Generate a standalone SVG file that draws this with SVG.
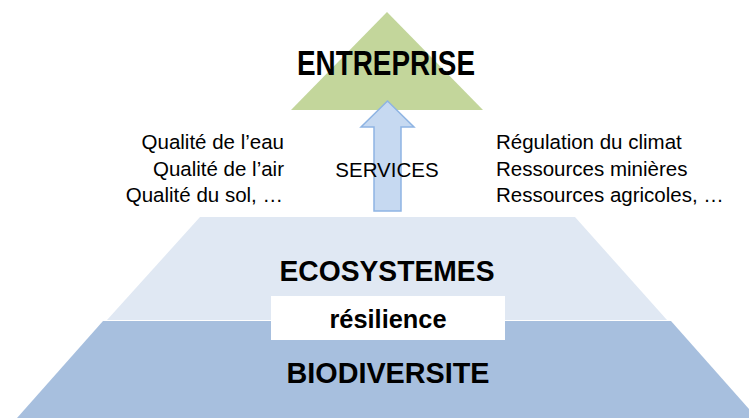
<svg xmlns="http://www.w3.org/2000/svg" width="749" height="418" viewBox="0 0 749 418">
<style>
text{font-family:"Liberation Sans",Arial,sans-serif;fill:#000}
.b{font-weight:bold}
.s{font-size:20.5px}
</style>
<rect width="749" height="418" fill="#fff"/>
<g id="biodiversite">
<polygon points="103,321 671,321 757,418 17,418" fill="#a7bfde"/>
<text class="b" x="388" y="383" font-size="29" text-anchor="middle" textLength="203" lengthAdjust="spacingAndGlyphs">BIODIVERSITE</text>
</g>
<g id="ecosystemes">
<polygon points="200,217 575,217 667,320 107,320" fill="#e0e8f3"/>
<text class="b" x="387" y="281" font-size="29" text-anchor="middle" textLength="215" lengthAdjust="spacingAndGlyphs">ECOSYSTEMES</text>
</g>
<g id="resilience">
<rect x="271" y="296" width="234" height="44" fill="#fff"/>
<text class="b" x="388" y="328" font-size="25" text-anchor="middle" textLength="117" lengthAdjust="spacingAndGlyphs">résilience</text>
</g>
<g id="entreprise">
<polygon points="387,12 483,110 291,110" fill="#c3d69b"/>
<text class="b" x="386" y="75" font-size="35" text-anchor="middle" textLength="178" lengthAdjust="spacingAndGlyphs">ENTREPRISE</text>
</g>
<g id="connectors">
<polygon points="387.5,101 414,127 401,127 401,211 374,211 374,127 361,127" fill="#c6d9f1" stroke="#8eb4e3" stroke-width="1.5" stroke-linejoin="miter"/>
</g>
<g id="services">
<text class="s" x="387" y="177" text-anchor="middle">SERVICES</text>
</g>
<g id="qualite">
<text class="s" x="284" y="149" text-anchor="end">Qualité de l’eau</text>
<text class="s" x="284" y="176" text-anchor="end">Qualité de l’air</text>
<text class="s" x="283" y="202" text-anchor="end">Qualité du sol, …</text>
</g>
<g id="ressources">
<text class="s" x="496" y="149">Régulation du climat</text>
<text class="s" x="496" y="176">Ressources minières</text>
<text class="s" x="496" y="202">Ressources agricoles, …</text>
</g>
</svg>
